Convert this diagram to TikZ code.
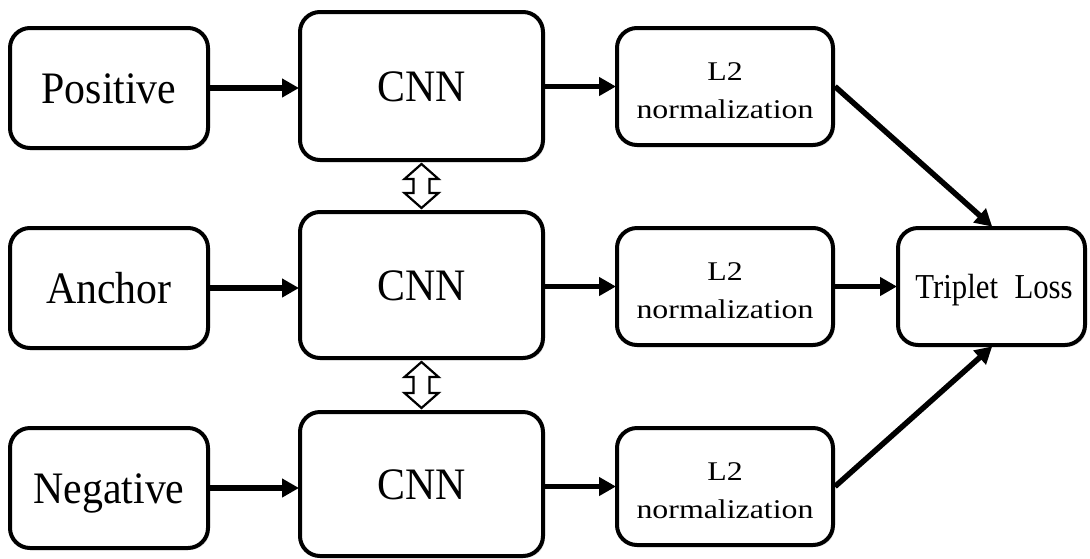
\documentclass[tikz,border=0pt]{standalone}
\usepackage{fontspec}
\setmainfont{Liberation Serif}
% label faces: large labels run slightly narrow, the L2 labels slightly wide
\newfontfamily\labelface[FakeStretch=0.93]{Liberation Serif}
\newfontfamily\normface[FakeStretch=1.18]{Liberation Serif}
\newfontfamily\lossface[FakeStretch=0.88]{Liberation Serif}
\usetikzlibrary{arrows.meta,calc,shadows}
% two-line label, set a little below the middle of its box
\newcommand{\twoline}[2]{\raisebox{-5pt}[\height][\depth]{\begin{tabular}{@{}c@{}}#1\\#2\end{tabular}}}
\begin{document}
\begin{tikzpicture}[x=1pt,y=-1pt,
  box/.style={draw=black, line width=4pt, rounded corners=20pt, fill=white,
    align=center, inner sep=0pt,
    drop shadow={opacity=0.18, shadow xshift=2pt, shadow yshift=-2pt}},
  bigtext/.style={font=\labelface\fontsize{45}{50}\selectfont, text height=30pt, text depth=0pt},
  inbox/.style={box, bigtext, minimum width=198pt, minimum height=120pt},
  cnnbox/.style={box, bigtext, minimum width=243pt},
  normbox/.style={box, minimum width=216pt, minimum height=117pt,
    font=\normface\fontsize{27}{38}\selectfont},
  flow/.style={line width=5.5pt, -{Triangle[length=17pt,width=18pt]}, shorten >=-1pt},
  tie/.style={draw=black, fill=white, line width=2.2pt, line join=miter}
]
\useasboundingbox (0,0) rectangle (1090,558);

% inputs
\node[inbox] (pos) at (109,88) {Positive};
\node[inbox] (anc) at (109,288) {Anchor};
\node[inbox] (neg) at (109,488) {Negative};

% shared-weight CNN branches
\node[cnnbox, minimum height=148pt] (cnn1) at (421.5,86) {CNN};
\node[cnnbox, minimum height=146pt] (cnn2) at (421.5,285) {CNN};
\node[cnnbox, minimum height=144pt] (cnn3) at (421.5,484) {CNN};

% normalisation layers
\node[normbox] (l2a) at (725,86.5) {\twoline{L2}{normalization}};
\node[normbox] (l2b) at (725,286.5) {\twoline{L2}{normalization}};
\node[normbox] (l2c) at (725,486.5) {\twoline{L2}{normalization}};

% loss
\node[box, minimum width=187pt, minimum height=117pt,
  font=\lossface\fontsize{35}{40}\selectfont, text height=23pt, text depth=0pt]
  (trip) at (991.5,286.5) {\hspace{5pt}Triplet\hspace{0.25em} Loss};

% forward connections
\draw[flow] (pos.east) -- (pos.east -| cnn1.west);
\draw[flow] (anc.east) -- (anc.east -| cnn2.west);
\draw[flow] (neg.east) -- (neg.east -| cnn3.west);
\draw[flow] (cnn1.east |- l2a.east) -- (l2a.west);
\draw[flow] (cnn2.east |- l2b.east) -- (l2b.west);
\draw[flow] (cnn3.east |- l2c.east) -- (l2c.west);
\draw[flow] (l2a.east) -- (trip.north);
\draw[flow] (l2b.east) -- (trip.west);
\draw[flow] (l2c.east) -- (trip.south);

% hollow double arrows for weight sharing
\foreach \a/\b in {cnn1/cnn2, cnn2/cnn3}{
  \coordinate (t) at ($(\a.south)+(0,2)$);
  \coordinate (u) at ($(\b.north)+(0,-2)$);
  \draw[tie] (t) -- ($(t)+(17,15)$) -- ($(t)+(8,15)$) -- ($(u)+(8,-15)$)
    -- ($(u)+(17,-15)$) -- (u) -- ($(u)+(-17,-15)$) -- ($(u)+(-8,-15)$)
    -- ($(t)+(-8,15)$) -- ($(t)+(-17,15)$) -- cycle;
}
\end{tikzpicture}
\end{document}
